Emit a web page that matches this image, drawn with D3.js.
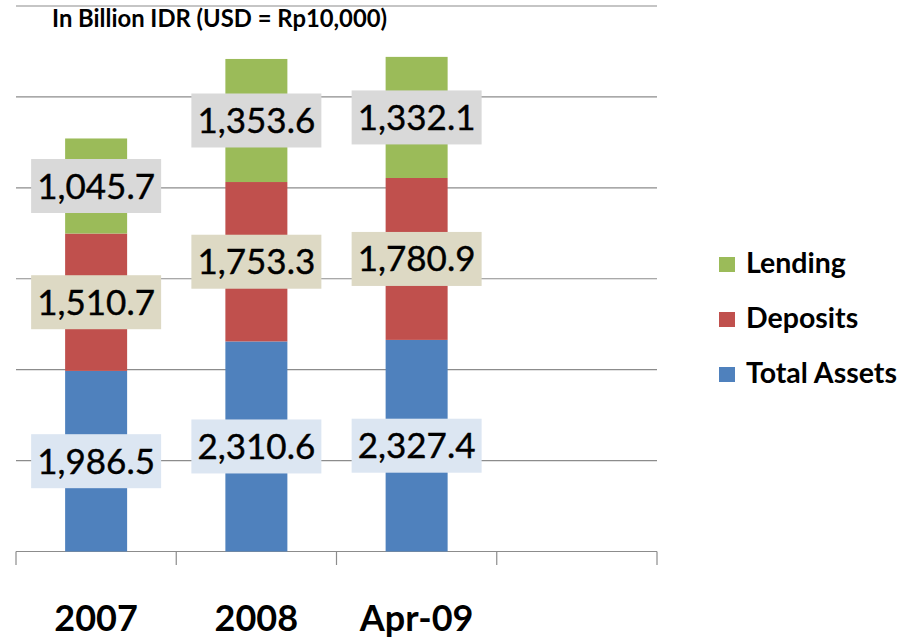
<!DOCTYPE html>
<html>
<head>
<meta charset="utf-8">
<script src="https://cdn.jsdelivr.net/npm/d3@7"></script>
<style>
  html, body { margin: 0; padding: 0; background: #fff; }
  svg { display: block; font-family: Lato, "Open Sans", sans-serif; }
</style>
</head>
<body>
<svg id="chart" width="912" height="638"></svg>
<script>
// data
const categories   = ["2007", "2008", "Apr-09", ""];
const totalAssets  = [1986.5, 2310.6, 2327.4, null];
const deposits     = [1510.7, 1753.3, 1780.9, null];
const lending      = [1045.7, 1353.6, 1332.1, null];
const seriesNames  = ["Total Assets", "Deposits", "Lending"];
const yTicks       = [0, 1000, 2000, 3000, 4000, 5000, 6000];
const titleText    = "In Billion IDR (USD = Rp10,000)";

const colors    = { "Total Assets": "#4f81bd", "Deposits": "#c0504d", "Lending": "#9bbb59" };
const boxColors = { "Total Assets": "#dce6f2", "Deposits": "#ddd9c4", "Lending": "#d9d9d9" };

const svg = d3.select("#chart");

const x = d3.scaleBand().domain(categories.map((c, i) => i)).range([16, 657]).paddingInner(0).paddingOuter(0);
const y = d3.scaleLinear().domain([0, 6000]).range([551.5, 6]);

const rows = categories.map((c, i) => ({
  i, cat: c,
  "Total Assets": totalAssets[i] || 0,
  "Deposits": deposits[i] || 0,
  "Lending": lending[i] || 0
}));
const stacked = d3.stack().keys(seriesNames)(rows);

// gridlines
svg.append("g")
  .selectAll("line")
  .data(yTicks)
  .join("line")
  .attr("x1", 16).attr("x2", 657)
  .attr("y1", d => y(d)).attr("y2", d => y(d))
  .attr("stroke", "#8c8c8c")
  .attr("stroke-width", 1.2);

// x axis tick marks
const tickXs = categories.map((c, i) => x(i)).concat([x(categories.length - 1) + x.bandwidth()]);
svg.append("g")
  .selectAll("line")
  .data(tickXs)
  .join("line")
  .attr("x1", d => d).attr("x2", d => d)
  .attr("y1", y(0)).attr("y2", 565)
  .attr("stroke", "#8c8c8c")
  .attr("stroke-width", 1.2);

// bars
const barW = 62;
svg.append("g")
  .selectAll("g")
  .data(stacked)
  .join("g")
  .attr("fill", s => colors[s.key])
  .selectAll("rect")
  .data(s => s.filter(d => d[1] > d[0]))
  .join("rect")
  .attr("x", d => x(d.data.i) + x.bandwidth() / 2 - barW / 2)
  .attr("width", barW)
  .attr("y", d => y(d[1]))
  .attr("height", d => y(d[0]) - y(d[1]));

// value labels
const labels = [];
stacked.forEach(s => s.forEach(d => {
  if (d[1] > d[0]) labels.push({ key: s.key, i: d.data.i, v: d[1] - d[0], mid: (d[0] + d[1]) / 2 });
}));
const fmt = d3.format(",.1f");
const lg = svg.append("g")
  .selectAll("g")
  .data(labels)
  .join("g")
  .attr("transform", d => `translate(${x(d.i) + x.bandwidth() / 2},${y(d.mid)})`);
lg.append("rect")
  .attr("x", -65).attr("y", -27)
  .attr("width", 130).attr("height", 54)
  .attr("fill", d => boxColors[d.key]);
lg.append("text")
  .attr("text-anchor", "middle")
  .attr("y", 12.5)
  .attr("font-size", 35)
  .attr("fill", "#000")
  .attr("stroke", "#000")
  .attr("stroke-width", 0.4)
  .text(d => fmt(d.v));

// x labels
svg.append("g")
  .selectAll("text")
  .data(categories)
  .join("text")
  .attr("x", (d, i) => x(i) + x.bandwidth() / 2)
  .attr("y", 631)
  .attr("text-anchor", "middle")
  .attr("font-size", 36)
  .attr("font-weight", "bold")
  .text(d => d);

// title
svg.append("text")
  .attr("x", 52).attr("y", 27)
  .attr("font-size", 23.8)
  .attr("font-weight", "bold")
  .text(titleText);

// legend
const legendOrder = seriesNames.slice().reverse();
const leg = svg.append("g")
  .selectAll("g")
  .data(legendOrder)
  .join("g")
  .attr("transform", (d, i) => `translate(719,${257 + i * 55})`);
leg.append("rect")
  .attr("width", 16).attr("height", 15)
  .attr("fill", d => colors[d]);
leg.append("text")
  .attr("x", 27).attr("y", 15.5)
  .attr("font-size", 28.5)
  .attr("font-weight", "bold")
  .text(d => d);
</script>
</body>
</html>
